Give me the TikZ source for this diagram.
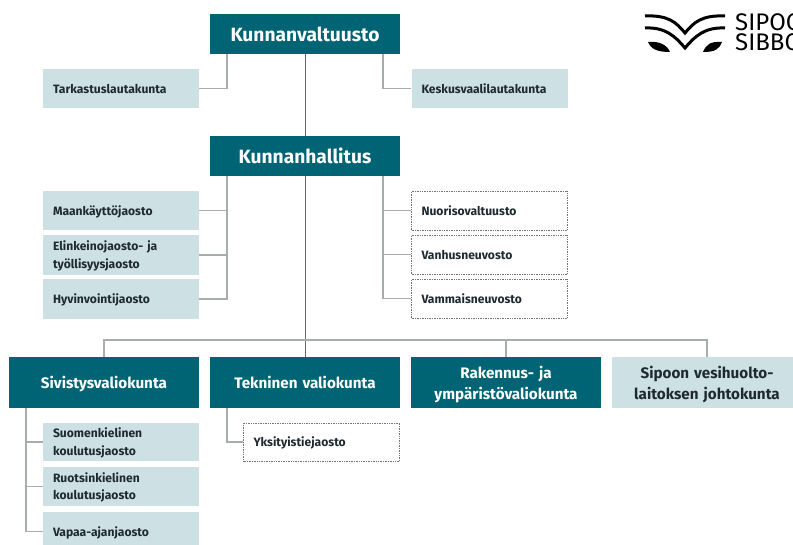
\documentclass[tikz,border=0pt]{standalone}
\usepackage{fontspec}
\setmainfont{Fira Sans}
\definecolor{teal1}{HTML}{006475}
\definecolor{pale}{HTML}{CDE0E4}
\definecolor{lineg}{HTML}{A8ACAD}
\definecolor{ink}{HTML}{1E2A30}
\tikzset{
 x=1pt,y=-1pt,
 main/.style={fill=teal1,text=white,font=\bfseries\fontsize{19.2}{21}\selectfont,minimum width=190pt,inner sep=0pt,align=center},
 mid/.style={main,font=\bfseries\fontsize{15.2}{21}\selectfont,text width=186pt,execute at end node={\vspace{-4pt}}},
 sub/.style={fill=pale,text=ink,font=\bfseries\fontsize{12.1}{17.5}\selectfont,minimum width=156pt,inner sep=0pt,text width=136pt,align=left,execute at end node={\vspace{-2pt}}},
 dot/.style={sub,fill=white,draw=black!55,densely dotted,line width=.7pt,minimum width=156pt},
 link/.style={draw=lineg,line width=1.2pt},
 linkd/.style={draw=black!60,line width=.9pt},
 logotext/.style={inner sep=0pt,anchor=base west,font=\fontsize{24}{24}\selectfont,text=black},
}
\begin{document}
\begin{tikzpicture}
\useasboundingbox (0,0) rectangle (793,545);
\clip (0,0) rectangle (793,545);
% connector junctions
\coordinate (jvl) at (227,54); \coordinate (jvr) at (383,54);
\coordinate (jhl) at (227,176); \coordinate (jhr) at (383,176);
\coordinate (jbar) at (305,340);
\coordinate (jsv) at (26,408); \coordinate (jtk) at (227,408);
% boxes
\node[main,minimum height=40pt] (kv) at (305,34) {Kunnanvaltuusto};
\node[main,minimum height=40pt] (kh) at (305,156) {Kunnanhallitus};
\node[sub,minimum height=39pt] (tark) at (121,88.5) {Tarkastuslautakunta};
\node[sub,minimum height=39pt] (kesk) at (489.5,88.5) {Keskusvaalilautakunta};
\node[sub,minimum height=39pt] (maan) at (121,210.5) {Maankäyttöjaosto};
\node[sub,minimum height=40pt] (elin) at (121,255) {Elinkeinojaosto- ja\\työllisyysjaosto};
\node[sub,minimum height=40pt] (hyvi) at (121,299) {Hyvinvointijaosto};
\node[dot,minimum height=39pt] (nuor) at (489.5,210.5) {Nuorisovaltuusto};
\node[dot,minimum height=39pt] (vanh) at (489.5,254.5) {Vanhusneuvosto};
\node[dot,minimum height=39pt] (vamm) at (489.5,298.5) {Vammaisneuvosto};
\node[mid,minimum height=51pt] (siv) at (104,382.5) {Sivistysvaliokunta};
\node[mid,minimum height=51pt] (tek) at (305,382.5) {Tekninen valiokunta};
\node[mid,minimum height=51pt] (rak) at (506,382.5) {Rakennus- ja\\ympäristövaliokunta};
\node[mid,fill=pale,text=ink,minimum height=51pt] (vesi) at (707,382.5) {Sipoon vesihuolto-\\laitoksen johtokunta};
\node[sub,minimum height=38pt] (suom) at (121,442) {Suomenkielinen\\koulutusjaosto};
\node[sub,minimum height=39pt] (ruot) at (121,486.5) {Ruotsinkielinen\\koulutusjaosto};
\node[sub,minimum height=39pt] (vapa) at (121,531.5) {Vapaa-ajanjaosto};
\node[dot,minimum height=38pt] (yksi) at (321.5,442) {Yksityistiejaosto};
% connectors
\draw[linkd] (kv.south) -- (kh.north);
\draw[linkd] (kh.south) -- (tek.north);
\draw[link] (tark.east) -| (jvl);
\draw[link] (kesk.west) -| (jvr);
\draw[link] (maan.east) -- (maan.east -| jhl);
\draw[link] (elin.east) -- (elin.east -| jhl);
\draw[link] (hyvi.east) -| (jhl);
\draw[link] (nuor.west) -- (nuor.west -| jhr);
\draw[link] (vanh.west) -- (vanh.west -| jhr);
\draw[link] (vamm.west) -| (jhr);
\draw[link] (siv.north) |- (jbar);
\draw[link] (rak.north) -- (rak.north |- jbar);
\draw[link] (vesi.north) |- (jbar);
\draw[link] (suom.west) -- (suom.west -| jsv);
\draw[link] (ruot.west) -- (ruot.west -| jsv);
\draw[link] (vapa.west) -| (jsv);
\draw[link] (yksi.west) -| (jtk);
% logo
\begin{scope}[line width=3pt,draw=black,line cap=butt]
\draw (645,16) .. controls (668,15) and (676,22) .. (685,33) .. controls (694,22) and (702,15) .. (725,16);
\draw (645,28) .. controls (665,27) and (675,36) .. (685,48) .. controls (695,36) and (705,27) .. (725,28);
\fill (648,42) .. controls (660,41) and (667,45) .. (670,52) .. controls (657,52) and (651,49) .. (648,42) -- cycle;
\fill (722,42) .. controls (710,41) and (706,45) .. (703,52) .. controls (716,52) and (719,49) .. (722,42) -- cycle;
\end{scope}
\node[logotext] (sipoo) at (735,31) {SIPOO};
\node[logotext] (sibbo) at (735,50.5) {SIBBO};
\end{tikzpicture}
\end{document}
